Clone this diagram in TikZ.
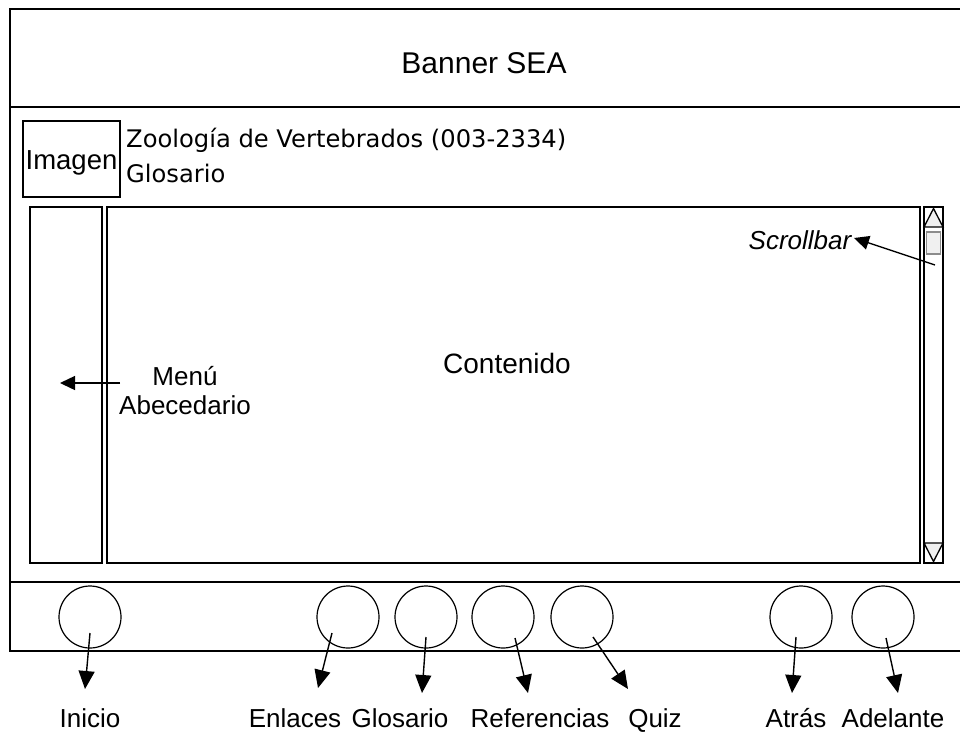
\documentclass[tikz,border=0pt]{standalone}
\usepackage{fontspec}
\setmainfont{Liberation Sans}
\newfontfamily\verdanafont{DejaVu Sans}
\usetikzlibrary{arrows.meta}

\tikzset{
  frame/.style={line width=1.3pt},
  boton/.style={draw,circle,line width=1.2pt,minimum size=62pt,inner sep=0pt},
  etiqueta/.style={anchor=base,inner sep=0pt,font=\fontsize{26}{31}\selectfont},
  flecha/.style={line width=1.4pt,-{Triangle[length=18pt,width=16pt]}},
  flechita/.style={line width=1.4pt,-{Triangle[length=15pt,width=14pt]}},
  barra/.style={draw,line width=1.3pt,fill=black!6}
}

\begin{document}
\begin{tikzpicture}[x=1pt,y=-1pt]
\path[use as bounding box] (0,0) rectangle (960,734);
% marco exterior
\draw[frame] (962,9) -- (10,9) -- (10,651) -- (962,651);
\draw[frame] (10,107) -- (962,107);
\draw[frame] (10,582) -- (962,582);
\node[etiqueta,font=\fontsize{30}{36}\selectfont] (banner) at (484,73) {Banner SEA};
% cabecera
\node[draw,line width=1.3pt,minimum width=97pt,minimum height=76pt,inner sep=0pt] (imagen) at (71.5,159) {};
\node[etiqueta,font=\fontsize{27.5}{33}\selectfont] (imagentxt) at (71.5,169) {Imagen};
\node[anchor=base west,inner sep=0pt,font=\verdanafont\fontsize{24.2}{29}\selectfont] (curso) at (126,147) {Zoología de Vertebrados (003-2334)};
\node[anchor=base west,inner sep=0pt,font=\verdanafont\fontsize{24.2}{29}\selectfont] (glosario) at (126,182) {Glosario};
% paneles
\draw[frame] (30,207) rectangle (102,563);
\draw[frame] (107,207) rectangle (920,563);
\node[etiqueta,font=\fontsize{28}{34}\selectfont] (contenido) at (507,373) {Contenido};
% barra de desplazamiento
\draw[frame] (924,207) rectangle (943,563);
\draw[barra] (924,227) -- (943,227) -- (933.5,208.5) -- cycle;
\draw[barra] (924,543) -- (943,543) -- (933.5,561.5) -- cycle;
\draw[line width=1.3pt,draw=black!45,fill=black!6] (926.5,232) rectangle (940.5,254);
\node[etiqueta,font=\fontsize{26}{31}\selectfont\itshape] (scroll) at (800,249) {Scrollbar};
\coordinate (scrollIni) at (935,265);
\coordinate (scrollFin) at (854,238);
\draw[flechita] (scrollIni) -- (scrollFin);
% menu
\node[etiqueta] (menu) at (185,385) {Menú};
\node[etiqueta] (abc) at (185,414) {Abecedario};
\coordinate (menuIni) at (120,383);
\coordinate (menuFin) at (60,383);
\draw[flechita] (menuIni) -- (menuFin);
% botones
\node[boton] (inicio) at (90,617) {};
\node[boton] (enlaces) at (348,617) {};
\node[boton] (glos) at (426,617) {};
\node[boton] (refs) at (503,617) {};
\node[boton] (quiz) at (582,617) {};
\node[boton] (atras) at (801,617) {};
\node[boton] (adelante) at (883,617) {};
% etiquetas de botones
\node[etiqueta] (lInicio) at (90,727) {Inicio};
\node[etiqueta] (lEnlaces) at (295,727) {Enlaces};
\node[etiqueta] (lGlos) at (400,727) {Glosario};
\node[etiqueta] (lRefs) at (540,727) {Referencias};
\node[etiqueta] (lQuiz) at (655,727) {Quiz};
\node[etiqueta] (lAtras) at (796,727) {Atrás};
\node[etiqueta] (lAdelante) at (893,727) {Adelante};
% flechas
\draw[flecha] ([yshift=-16pt]inicio.center) -- (85,689);
\draw[flecha] ([xshift=-16pt,yshift=-16pt]enlaces.center) -- (318,688);
\draw[flecha] ([yshift=-20pt]glos.center) -- (422,693);
\draw[flecha] ([xshift=12pt,yshift=-21pt]refs.center) -- (528,693);
\draw[flecha] ([xshift=11pt,yshift=-20pt]quiz.center) -- (628,689);
\draw[flecha] ([xshift=-5pt,yshift=-20pt]atras.center) -- (792,693);
\draw[flecha] ([xshift=3pt,yshift=-21pt]adelante.center) -- (898,693);
\end{tikzpicture}
\end{document}
